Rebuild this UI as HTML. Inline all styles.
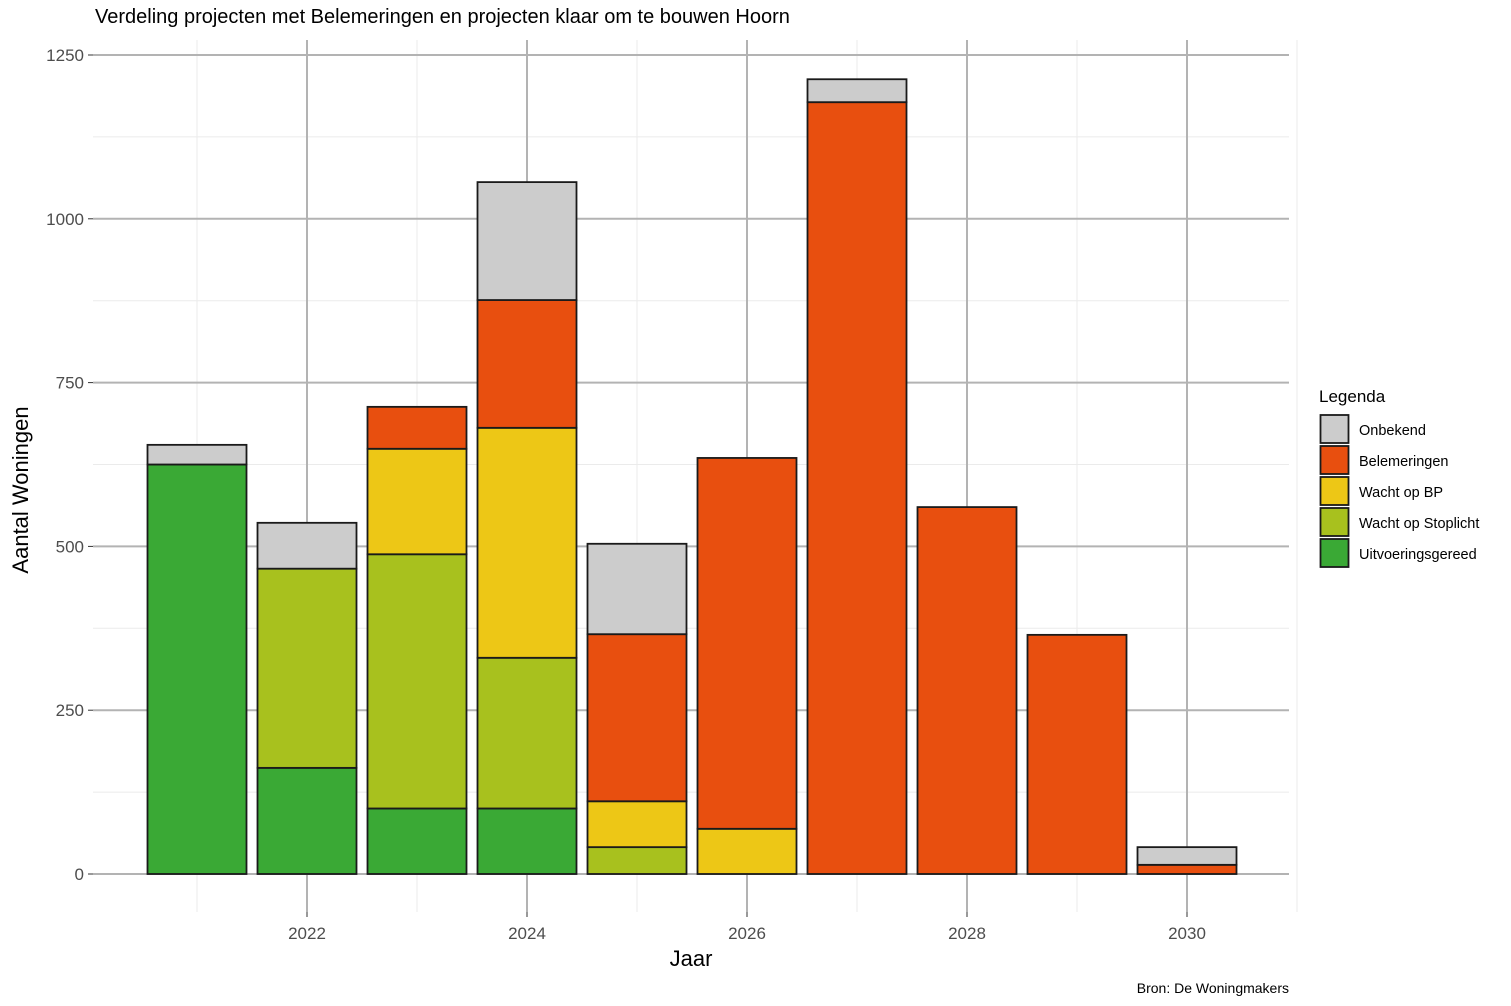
<!DOCTYPE html>
<html><head><meta charset="utf-8"><style>
body{margin:0;background:#fff;}
svg{display:block;font-family:"Liberation Sans",Helvetica,Arial,sans-serif;}
</style></head><body>
<svg id="chart" width="1511" height="1006" xmlns="http://www.w3.org/2000/svg">
<text x="95" y="23" font-size="20" fill="#000">Verdeling projecten met Belemeringen en projecten klaar om te bouwen Hoorn</text>
<g id="grid"></g><g id="bars"></g><g id="axes"></g>
<text x="691" y="966" font-size="22" text-anchor="middle">Jaar</text>
<text transform="translate(28,490) rotate(-90)" font-size="22" text-anchor="middle">Aantal Woningen</text>
<text x="1289" y="993" font-size="14" text-anchor="end">Bron: De Woningmakers</text>
<g id="legend"></g>
</svg>
<script>
const years=[2021,2022,2023,2024,2025,2026,2027,2028,2029,2030];
const seriesNames=["Uitvoeringsgereed","Wacht op Stoplicht","Wacht op BP","Belemeringen","Onbekend"];
const uitvoeringsgereed=[625,162,100,100,0,0,0,0,0,0];
const wachtStoplicht=[0,304,388,230,41,0,0,0,0,0];
const wachtBP=[0,0,161,351,70,69,0,0,0,0];
const belemeringen=[0,0,64,195,255,566,1178,560,365,14];
const onbekend=[30,70,0,180,138,0,35,0,0,27];
const yTicks=[0,250,500,750,1000,1250];
const xTicks=[2022,2024,2026,2028,2030];
const colors=["#3aa935","#a8c11e","#edc716","#e84f0f","#cccccc"];
const series=[uitvoeringsgereed,wachtStoplicht,wachtBP,belemeringen,onbekend];
const NS="http://www.w3.org/2000/svg";
const L=93,R=1289,T=40,B=912;
const x=v=>307+(v-2022)*110;
const y=v=>874-v*0.6552;
function mk(tag,at,parent){const e=document.createElementNS(NS,tag);for(const k in at)e.setAttribute(k,at[k]);parent.appendChild(e);return e;}
const grid=document.getElementById('grid'),bars=document.getElementById('bars'),axes=document.getElementById('axes'),leg=document.getElementById('legend');
for(let v=125;v<1300;v+=250){const l=mk('line',{x1:L,x2:R,y1:y(v),y2:y(v),stroke:'#ebebeb','stroke-width':1},grid);

}
for(let v=2021;v<=2031;v+=2){const l=mk('line',{x1:x(v),x2:x(v),y1:T,y2:B,stroke:'#ebebeb','stroke-width':1},grid);

}
yTicks.forEach(v=>{const l=mk('line',{x1:L,x2:R,y1:y(v),y2:y(v),stroke:'#b3b3b3','stroke-width':2},grid);


const t=mk('line',{x1:88,x2:93,y1:y(v),y2:y(v),stroke:'#333','stroke-width':1},axes);


const tx=mk('text',{x:84,y:y(v)+6,'font-size':17,'text-anchor':'end',fill:'#4d4d4d'},axes);tx.textContent=v;

});
xTicks.forEach(v=>{const l=mk('line',{x1:x(v),x2:x(v),y1:T,y2:B,stroke:'#b3b3b3','stroke-width':2},grid);


const t=mk('line',{x1:x(v),x2:x(v),y1:B,y2:B+5,stroke:'#333','stroke-width':1},axes);


const tx=mk('text',{x:x(v),y:939,'font-size':17,'text-anchor':'middle',fill:'#4d4d4d'},axes);tx.textContent=v;

});
years.forEach((yr,i)=>{let cum=0;series.forEach((s,j)=>{const v=s[i];if(v<=0)return;
const r=mk('rect',{x:x(yr)-49.5,width:99,y:y(cum+v),height:y(cum)-y(cum+v),fill:colors[j],stroke:'#1a1a1a','stroke-width':1.8},bars);


cum+=v;});});
const lt=mk('text',{x:1319,y:402,'font-size':17},leg);lt.textContent='Legenda';


for(let k=0;k<5;k++){const j=4-k;const yy=415+k*31;
const r=mk('rect',{x:1320.5,y:yy,width:28,height:28,fill:colors[j],stroke:'#1a1a1a','stroke-width':1.8},leg);


const t=mk('text',{x:1359,y:yy+20,'font-size':14.5},leg);t.textContent=seriesNames[j];

}
</script>
</body></html>
